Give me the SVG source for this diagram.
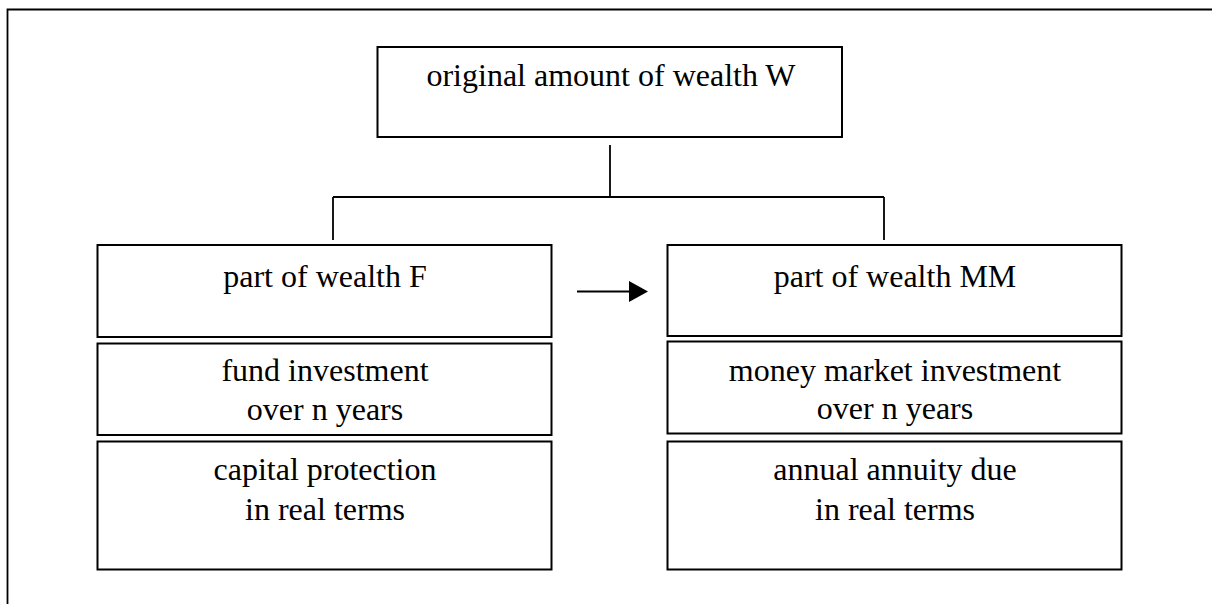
<svg xmlns="http://www.w3.org/2000/svg" width="1212" height="604" viewBox="0 0 1212 604">
<style>
.box{fill:#fff;stroke:#000;stroke-width:2}
.ln{fill:none;stroke:#000;stroke-width:1.8}
.t{font-family:"Liberation Serif","Times New Roman",serif;font-size:32px;fill:#000;text-anchor:middle}
</style>
<rect width="1212" height="604" fill="#fff"/>
<g id="frame">
<path class="ln" d="M7.5,604 V9.5 H1212" stroke-width="2"/>
</g>
<g id="connectors">
<path class="ln" d="M610,145 V197"/>
<path class="ln" d="M333,197 H884"/>
<path class="ln" d="M333,197 V240"/>
<path class="ln" d="M884,197 V240"/>
<path class="ln" d="M577,291.5 H630"/>
<polygon points="629,281 648,291.5 629,302" fill="#000"/>
</g>
<g id="node-w">
<rect class="box" x="377.5" y="47" width="464.5" height="90"/>
<text class="t" x="611" y="86">original amount of wealth W</text>
</g>
<g id="node-f">
<rect class="box" x="97.5" y="245" width="454" height="92"/>
<text class="t" x="325" y="287">part of wealth F</text>
</g>
<g id="node-fund">
<rect class="box" x="97.5" y="343.5" width="454" height="91.5"/>
<text class="t" x="325" y="381">fund investment</text>
<text class="t" x="325" y="420">over n years</text>
</g>
<g id="node-cap">
<rect class="box" x="97.5" y="441.5" width="454" height="128"/>
<text class="t" x="325" y="480">capital protection</text>
<text class="t" x="325" y="520">in real terms</text>
</g>
<g id="node-mm">
<rect class="box" x="667.5" y="245" width="454" height="91"/>
<text class="t" x="895" y="287">part of wealth MM</text>
</g>
<g id="node-money">
<rect class="box" x="667.5" y="341.5" width="454" height="92"/>
<text class="t" x="895" y="381">money market investment</text>
<text class="t" x="895" y="419">over n years</text>
</g>
<g id="node-annual">
<rect class="box" x="667.5" y="441.5" width="454" height="128"/>
<text class="t" x="895" y="480">annual annuity due</text>
<text class="t" x="895" y="520">in real terms</text>
</g>
</svg>
